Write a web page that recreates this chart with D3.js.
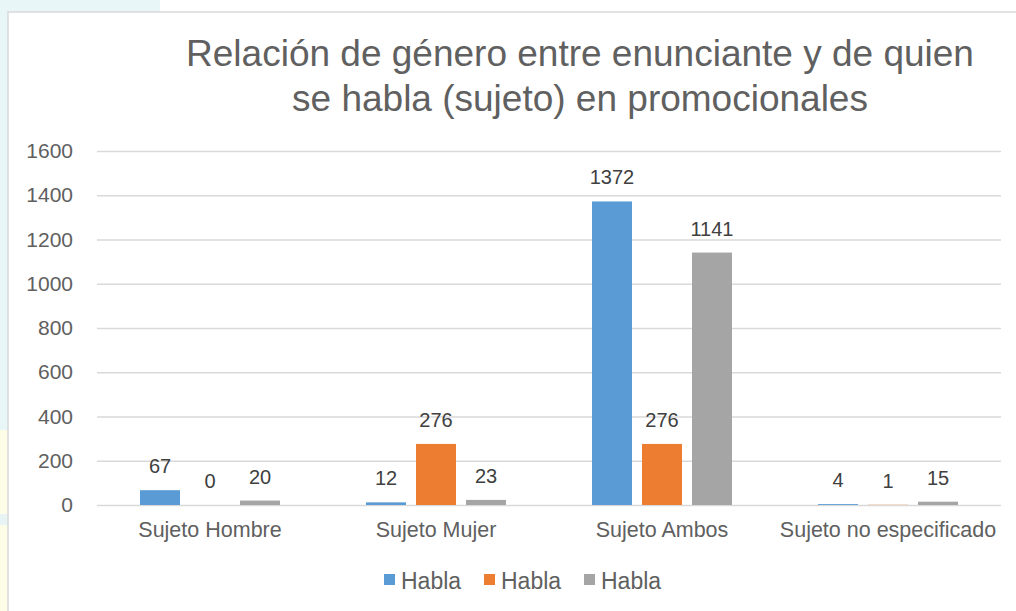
<!DOCTYPE html>
<html>
<head>
<meta charset="utf-8">
<script src="https://cdnjs.cloudflare.com/ajax/libs/d3/7.8.5/d3.min.js"></script>
<style>
  html, body { margin: 0; padding: 0; background: #ffffff; }
  svg { display: block; }
</style>
</head>
<body>
<svg width="1016" height="611"></svg>
<script>
// datos
var categorias = ["Sujeto Hombre", "Sujeto Mujer", "Sujeto Ambos", "Sujeto no especificado"];
var series = ["Habla", "Habla", "Habla"];
var habla1 = [67, 12, 1372, 4];
var habla2 = [0, 276, 276, 1];
var habla3 = [20, 23, 1141, 15];
var ticks = [0, 200, 400, 600, 800, 1000, 1200, 1400, 1600];
var colores = ["#5b9bd5", "#ed7d31", "#a5a5a5"];

var valores = [habla1, habla2, habla3];

var svg = d3.select("svg");
var fuente = "'Liberation Sans', Arial, sans-serif";

// fondo de la pagina detras del marco
svg.append("rect").attr("x", 0).attr("y", 0).attr("width", 160).attr("height", 12).attr("fill", "#e8f6f8");
svg.append("rect").attr("x", 0).attr("y", 0).attr("width", 8).attr("height", 430).attr("fill", "#e8f6f8");
svg.append("rect").attr("x", 0).attr("y", 430).attr("width", 8).attr("height", 181).attr("fill", "#fdfce6");
svg.append("rect").attr("x", 0).attr("y", 514).attr("width", 8).attr("height", 11).attr("fill", "#e8f3f4");

// marco del grafico
svg.append("rect")
    .attr("x", 8).attr("y", 12)
    .attr("width", 1030).attr("height", 620)
    .attr("fill", "#ffffff")
    .attr("stroke", "#d9d9d9")
    .attr("stroke-width", 1.5);

// titulo
var titulo = svg.append("text")
    .attr("text-anchor", "middle")
    .attr("font-family", fuente)
    .attr("font-size", "37px")
    .attr("fill", "#606060");
titulo.append("tspan").attr("x", 580).attr("y", 66).text("Relación de género entre enunciante y de quien");
titulo.append("tspan").attr("x", 580).attr("y", 111).text("se habla (sujeto) en promocionales");

var x0 = d3.scaleBand().domain(categorias).range([97, 1001]);
var x1 = d3.scaleBand().domain(d3.range(series.length))
    .range([0, x0.bandwidth()])
    .paddingInner(0.2)
    .paddingOuter(0.86);
var y = d3.scaleLinear().domain([0, 1600]).range([505, 151]);

// lineas de cuadricula
svg.append("g")
    .attr("transform", "translate(97,0)")
    .call(d3.axisLeft(y).tickValues(ticks).tickSize(-904).tickFormat(""))
    .call(function (g) { g.select(".domain").remove(); })
    .selectAll("line")
    .attr("stroke", "#d9d9d9")
    .attr("stroke-width", 1.5);

// etiquetas del eje y
svg.selectAll(".ytick")
    .data(ticks)
    .enter().append("text")
    .attr("class", "ytick")
    .attr("x", 73)
    .attr("y", function (d) { return y(d) + 7; })
    .attr("text-anchor", "end")
    .attr("font-family", fuente)
    .attr("font-size", "21px")
    .attr("fill", "#606060")
    .text(function (d) { return d; });

// etiquetas de categorias
svg.selectAll(".xlab")
    .data(categorias)
    .enter().append("text")
    .attr("class", "xlab")
    .attr("x", function (d) { return x0(d) + x0.bandwidth() / 2; })
    .attr("y", 537)
    .attr("text-anchor", "middle")
    .attr("font-family", fuente)
    .attr("font-size", "21.5px")
    .attr("fill", "#606060")
    .text(function (d) { return d; });

// barras
var grupos = svg.selectAll(".serie")
    .data(valores)
    .enter().append("g")
    .attr("class", "serie");

grupos.each(function (vals, s) {
    var g = d3.select(this);
    g.selectAll("rect")
        .data(vals)
        .enter().append("rect")
        .attr("x", function (d, i) { return x0(categorias[i]) + x1(s); })
        .attr("y", function (d) { return y(d); })
        .attr("width", x1.bandwidth())
        .attr("height", function (d) { return y(0) - y(d); })
        .attr("fill", colores[s]);

    g.selectAll("text")
        .data(vals)
        .enter().append("text")
        .attr("x", function (d, i) { return x0(categorias[i]) + x1(s) + x1.bandwidth() / 2; })
        .attr("y", function (d) { return y(d) - 17; })
        .attr("text-anchor", "middle")
        .attr("font-family", fuente)
        .attr("font-size", "20px")
        .attr("fill", "#404040")
        .text(function (d) { return d; });
});

// leyenda
var leyenda = svg.selectAll(".ley")
    .data(series)
    .enter().append("g")
    .attr("class", "ley")
    .attr("transform", function (d, i) { return "translate(" + (384 + i * 100) + ",0)"; });

leyenda.append("rect")
    .attr("x", 0).attr("y", 574)
    .attr("width", 11).attr("height", 11)
    .attr("fill", function (d, i) { return colores[i]; });

leyenda.append("text")
    .attr("x", 17).attr("y", 589)
    .attr("font-family", fuente)
    .attr("font-size", "23px")
    .attr("fill", "#606060")
    .text(function (d) { return d; });
</script>
</body>
</html>
